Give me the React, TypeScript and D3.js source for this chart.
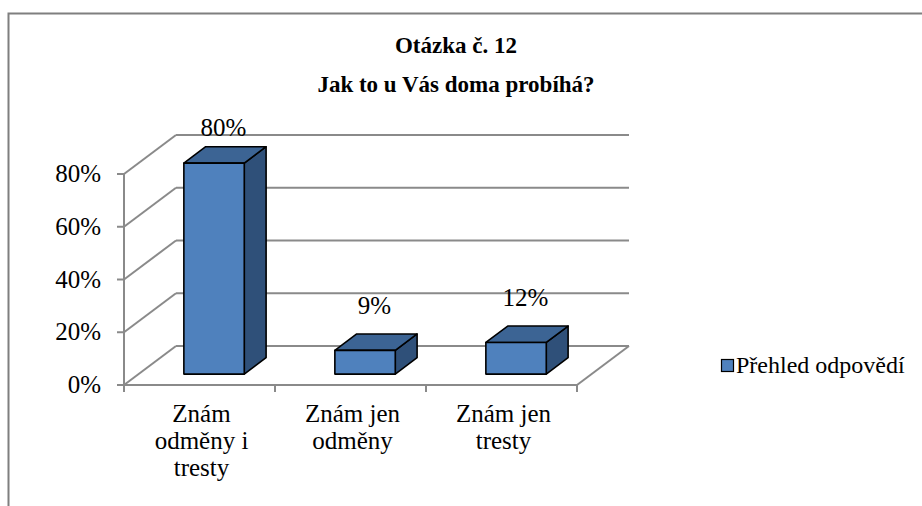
import React from "react";
import * as d3 from "d3";

const titleLines = ["Otázka č. 12", "Jak to u Vás doma probíhá?"];
const categories = ["Znám\nodměny i\ntresty", "Znám jen\nodměny", "Znám jen\ntresty"];
const values = [0.8, 0.09, 0.12];
const labels = ["80%", "9%", "12%"];
const yTicks = [0, 0.2, 0.4, 0.6, 0.8];
const seriesName = "Přehled odpovědí";

const W = 922;
const H = 506;
const DX = 52;
const DY = -39;
const Z0 = 0.28;
const Z1 = 0.7;
const GRID = "#8a8a8a";

export default function App() {
  const x = d3.scaleBand<string>().domain(categories).range([124, 577]).paddingInner(0.6).paddingOuter(0.3);
  const y = d3.scaleLinear().domain([0, 0.8]).range([385, 174]);
  const pt = (px: number, py: number, z: number) => [px + z * DX, py + z * DY];
  const poly = (pts: number[][]) => pts.map((p) => p.join(",")).join(" ");
  const fmt = d3.format(".0%");
  const x0 = 124, x1 = 577;
  const step = x.step();
  const catBounds = d3.range(categories.length + 1).map((i) => x0 + i * step);

  return (
    <svg width={W} height={H} style={{ position: "absolute", left: 0, top: 0, fontFamily: "Liberation Serif" }}>
      <style>{`text { font-family: "Liberation Serif", "Times New Roman", serif; font-weight: normal; }`}</style>
      <rect x={0} y={0} width={W} height={H} fill="#fff" />
      <rect x={8.5} y={13.5} width={1000} height={600} fill="#fff" stroke="#7f7f7f" strokeWidth={2} />
      {yTicks.map((t) => {
        const a = pt(x0, y(t), 0);
        const b = pt(x0, y(t), 1);
        const c = pt(x1, y(t), 1);
        return (
          <g key={t}>
            <line x1={a[0]} y1={a[1]} x2={b[0]} y2={b[1]} stroke={GRID} strokeWidth={2} />
            <line x1={b[0]} y1={b[1]} x2={c[0]} y2={c[1]} stroke={GRID} strokeWidth={2} />
          </g>
        );
      })}
      {(() => {
        const f1 = pt(x1, y(0), 1);
        const f2 = pt(x1, y(0), 0);
        return <line x1={f1[0]} y1={f1[1]} x2={f2[0]} y2={f2[1]} stroke={GRID} strokeWidth={2} />;
      })()}
      <line x1={x0} y1={y(0)} x2={x1} y2={y(0)} stroke={GRID} strokeWidth={2} />
      <line x1={x0} y1={y(0.8)} x2={x0} y2={y(0) + 7} stroke={GRID} strokeWidth={2} />
      {yTicks.map((t) => (
        <g key={"yt" + t}>
          <line x1={x0 - 7} y1={y(t)} x2={x0} y2={y(t)} stroke={GRID} strokeWidth={2} />
          <text x={101} y={y(t) + 8} textAnchor="end" fontSize={25}>
            {fmt(t)}
          </text>
        </g>
      ))}
      {catBounds.map((b, i) => (
        <line key={"xt" + i} x1={b} y1={y(0)} x2={b} y2={y(0) + 7} stroke={GRID} strokeWidth={2} />
      ))}
      {categories.map((c, i) => {
        const bx0 = x(c)!;
        const bx1 = bx0 + x.bandwidth();
        const yv = y(values[i]);
        const yb = y(0);
        const front = [pt(bx0, yv, Z0), pt(bx1, yv, Z0), pt(bx1, yb, Z0), pt(bx0, yb, Z0)];
        const top = [pt(bx0, yv, Z0), pt(bx1, yv, Z0), pt(bx1, yv, Z1), pt(bx0, yv, Z1)];
        const side = [pt(bx1, yv, Z0), pt(bx1, yb, Z0), pt(bx1, yb, Z1), pt(bx1, yv, Z1)];
        return (
          <g key={c} stroke="#000" strokeWidth={1.6} strokeLinejoin="round">
            <polygon points={poly(side)} fill="#2f5079" />
            <polygon points={poly(top)} fill="#3c6494" />
            <polygon points={poly(front)} fill="#4f81bd" />
          </g>
        );
      })}
      {categories.map((c, i) => {
        const bx0 = x(c)!;
        const bx1 = bx0 + x.bandwidth();
        const yv = y(values[i]);
        const lp = pt((bx0 + bx1) / 2, yv, 0.5);
        const ly = Math.max(pt(bx0, yv, Z1)[1] - 20, 136);
        return (
          <text key={"dl" + i} x={lp[0] - 2} y={ly} textAnchor="middle" fontSize={25}>
            {labels[i]}
          </text>
        );
      })}
      {categories.map((c, i) => (
        <text key={"cl" + i} x={x(c)! + x.bandwidth() / 2 + 2} y={422} textAnchor="middle" fontSize={25}>
          {c.split("\n").map((ln, j) => (
            <tspan key={j} x={x(c)! + x.bandwidth() / 2 + 2} dy={j === 0 ? 0 : 27}>
              {ln}
            </tspan>
          ))}
        </text>
      ))}
      {titleLines.map((t, i) => (
        <text key={"t" + i} x={456} y={53 + i * 39} textAnchor="middle" fontSize={23} style={{ fontWeight: "bold" }}>
          {t}
        </text>
      ))}
      <rect x={721.5} y={359.5} width={12} height={12} fill="#4f81bd" stroke="#000" strokeWidth={1.2} />
      <text x={736} y={373} fontSize={24}>
        {seriesName}
      </text>
    </svg>
  );
}
